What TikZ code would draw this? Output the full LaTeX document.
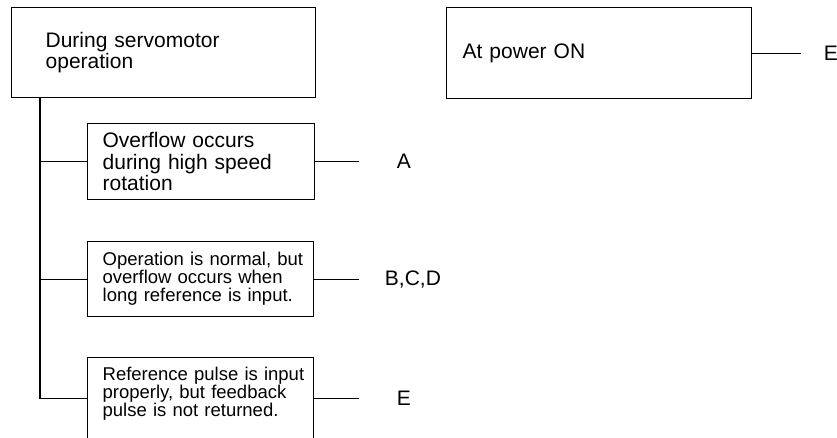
\documentclass[tikz,border=0pt]{standalone}
\usepackage{fontspec}
\setmainfont{Liberation Sans}
\begin{document}
\hyphenpenalty=10000
\exhyphenpenalty=10000
\begin{tikzpicture}[x=1pt,y=-1pt,line width=1.3pt,
  big/.style={font=\fontsize{21}{21.5}\selectfont},
  small/.style={font=\fontsize{18.5}{18}\selectfont},
  box/.style={draw,rectangle,align=left,anchor=north west,inner ysep=0pt},
  lbl/.style={anchor=west,inner ysep=0pt}]
\useasboundingbox (0,0) rectangle (837,437);
% boxes
\node[box,big,text width=236pt,inner xsep=34pt,minimum height=90pt] (S) at (11,7)
  {\mbox{During servomotor}\\\mbox{operation}};
\node[box,big,text width=197pt,inner xsep=15pt,minimum height=76pt] (A) at (87,123)
  {\mbox{Overflow occurs}\\\mbox{during high speed}\\\mbox{rotation}};
\node[box,small,text width=196pt,inner xsep=15pt,minimum height=75pt] (B) at (87,241)
  {\mbox{Operation is normal, but}\\\mbox{overflow occurs when}\\\mbox{long reference is input.}};
\node[box,small,text width=196pt,inner xsep=15pt,text height=23pt,text depth=59pt] (E) at (87,357)
  {\mbox{Reference pulse is input}\\\mbox{properly, but feedback}\\\mbox{pulse is not returned.}};
\node[box,big,text width=273pt,inner xsep=16pt,minimum height=91pt] (P) at (446,7)
  {\mbox{At power ON}};
% labels
\node[lbl,big,inner xsep=37pt] (la) at ([xshift=44pt]A.east) {A};
\node[lbl,big,inner xsep=25pt] (lb) at ([xshift=45pt]B.east) {B,C,D};
\node[lbl,big,inner xsep=37pt] (le) at ([xshift=45pt]E.east) {E};
\node[lbl,big,inner xsep=22pt] (lp) at ([xshift=49pt]P.east) {E};
% connectors
\coordinate (T) at ([xshift=29pt]S.south west);
\draw (T) |- (E.west);
\draw (T |- A.west) -- (A.west);
\draw (T |- B.west) -- (B.west);
\draw (A.east) -- (la.west);
\draw (B.east) -- (lb.west);
\draw (E.east) -- (le.west);
\draw (P.east) -- (lp.west);
\end{tikzpicture}
\end{document}
